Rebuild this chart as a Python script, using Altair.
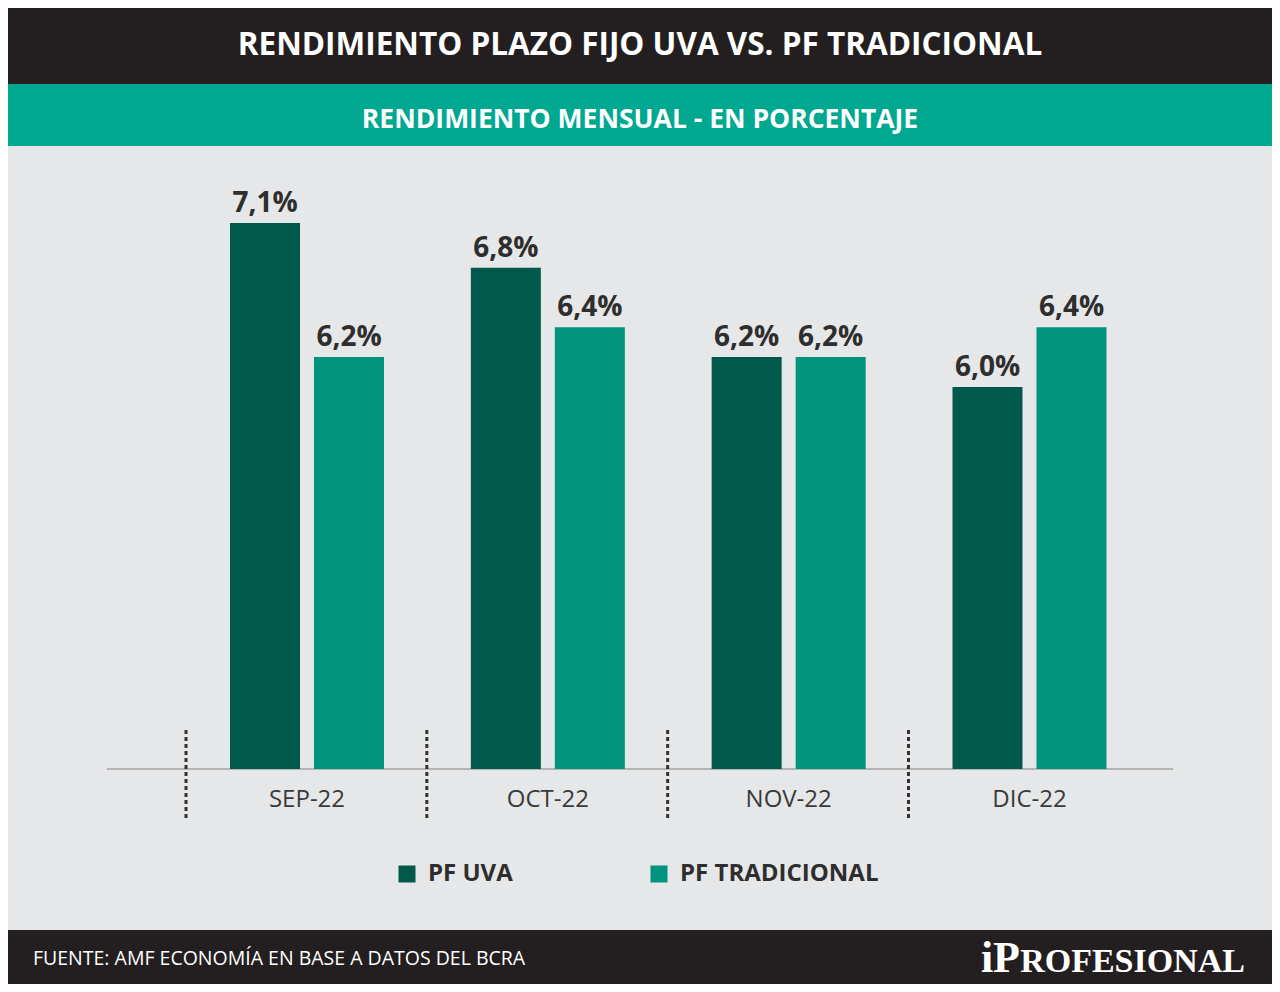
import pandas as pd
import altair as alt

# datos
meses = ["SEP-22", "OCT-22", "NOV-22", "DIC-22"]
series = ["PF UVA", "PF TRADICIONAL"]
pf_uva = [7.1, 6.8, 6.2, 6.0]
pf_tradicional = [6.2, 6.4, 6.2, 6.4]
colores = ["#00594a", "#00937e"]

titulo = "RENDIMIENTO PLAZO FIJO UVA VS. PF TRADICIONAL"
subtitulo = "RENDIMIENTO MENSUAL - EN PORCENTAJE"
fuente = "FUENTE: AMF ECONOMÍA EN BASE A DATOS DEL BCRA"
logo_a, logo_b = "iP", "ROFESIONAL"

W, H = 1264, 976
BASE = 3.436  # el eje no arranca en cero

rows = []
for i, m in enumerate(meses):
    rows.append({"mes": m, "serie": series[0], "valor": pf_uva[i]})
    rows.append({"mes": m, "serie": series[1], "valor": pf_tradicional[i]})
df = pd.DataFrame(rows)
df["etiqueta"] = df["valor"].map(lambda v: f"{v:.1f}".replace(".", ",") + "%")
df["base"] = BASE
df_meses = pd.DataFrame({"mes": meses, "base": BASE})
uno = pd.DataFrame({"k": [0]})

x_scale = alt.Scale(domain=meses, range=[222, 1098.5], paddingInner=0.3605, paddingOuter=0)
y_scale = alt.Scale(domain=[BASE, 7.1], range=[761, 215], zero=False, nice=False)
xoff = alt.XOffset("serie:N", sort=series, scale=alt.Scale(paddingInner=14 / 84, paddingOuter=0))

FONT = "Open Sans"

# fondo de cabecera y pie
header = alt.Chart(uno).mark_rect(color="#231f20").encode(
    x=alt.value(0), x2=alt.value(W), y=alt.value(0), y2=alt.value(76))
banda = alt.Chart(uno).mark_rect(color="#00a890").encode(
    x=alt.value(0), x2=alt.value(W), y=alt.value(76), y2=alt.value(138))
pie = alt.Chart(uno).mark_rect(color="#231f20").encode(
    x=alt.value(0), x2=alt.value(W), y=alt.value(922), y2=alt.value(H))

t1 = alt.Chart(uno).mark_text(font=FONT, fontWeight="bold", fontSize=31.5, color="white",
                              align="center", baseline="middle").encode(
    x=alt.value(W / 2), y=alt.value(38), text=alt.value(titulo))
t2 = alt.Chart(uno).mark_text(font=FONT, fontWeight="bold", fontSize=26.5, color="white",
                              align="center", baseline="middle").encode(
    x=alt.value(W / 2), y=alt.value(112), text=alt.value(subtitulo))
t3 = alt.Chart(uno).mark_text(font=FONT, fontSize=19.5, color="white",
                              align="left", baseline="middle").encode(
    x=alt.value(25), y=alt.value(951), text=alt.value(fuente))
t4 = alt.Chart(uno).mark_text(font="Liberation Serif", fontWeight="bold", fontSize=44, color="white",
                              align="right", baseline="alphabetic").encode(
    x=alt.value(1012), y=alt.value(964), text=alt.value(logo_a))
t5 = alt.Chart(uno).mark_text(font="Liberation Serif", fontWeight="bold", fontSize=34, color="white",
                              align="right", baseline="alphabetic").encode(
    x=alt.value(1237), y=alt.value(964), text=alt.value(logo_b))

# linea base
linea = alt.Chart(df_meses.head(1)).mark_rule(color="#a3a3a3", strokeWidth=1.5).encode(
    x=alt.value(99), x2=alt.value(1165), y=alt.Y("base:Q", scale=y_scale, axis=None))

# separadores punteados
sep = alt.Chart(df_meses).mark_rule(color="#333333", strokeWidth=3, strokeDash=[4, 3],
                                    xOffset=-44).encode(
    x=alt.X("mes:N", scale=x_scale, axis=None, bandPosition=0),
    y=alt.value(722), y2=alt.value(810))

barras = alt.Chart(df).mark_bar().encode(
    x=alt.X("mes:N", scale=x_scale, axis=None),
    xOffset=xoff,
    y=alt.Y("valor:Q", scale=y_scale, axis=None),
    y2="base:Q",
    color=alt.Color("serie:N", scale=alt.Scale(domain=series, range=colores),
                    legend=alt.Legend(title=None, orient="none", legendX=387, legendY=854,
                                      direction="horizontal", symbolType="square",
                                      symbolSize=289, symbolStrokeWidth=0, symbolOpacity=1,
                                      labelFont=FONT, labelFontWeight="bold", labelFontSize=24,
                                      labelColor="#2e2e2e", labelOffset=9, columnPadding=134,
                                      padding=0, labelLimit=400)))

valores = alt.Chart(df).mark_text(font=FONT, fontWeight="bold", fontSize=28, color="#2e2e2e",
                                  baseline="bottom", dy=-5).encode(
    x=alt.X("mes:N", scale=x_scale, axis=None),
    xOffset=xoff,
    y=alt.Y("valor:Q", scale=y_scale, axis=None),
    text="etiqueta:N")

etiquetas = alt.Chart(df_meses).mark_text(font=FONT, fontSize=24, color="#3a3a3a",
                                          baseline="middle").encode(
    x=alt.X("mes:N", scale=x_scale, axis=None),
    y=alt.value(792),
    text="mes:N")

chart = alt.layer(header, banda, pie, t1, t2, t3, t4, t5, linea, sep, barras, valores, etiquetas).properties(
    width=W, height=H, padding=0, autosize=alt.AutoSizeParams(type="none"),
    background="#e6e7e8"
).configure_view(stroke=None)

chart.save("out.html", embed_options={"renderer": "svg", "actions": False})
